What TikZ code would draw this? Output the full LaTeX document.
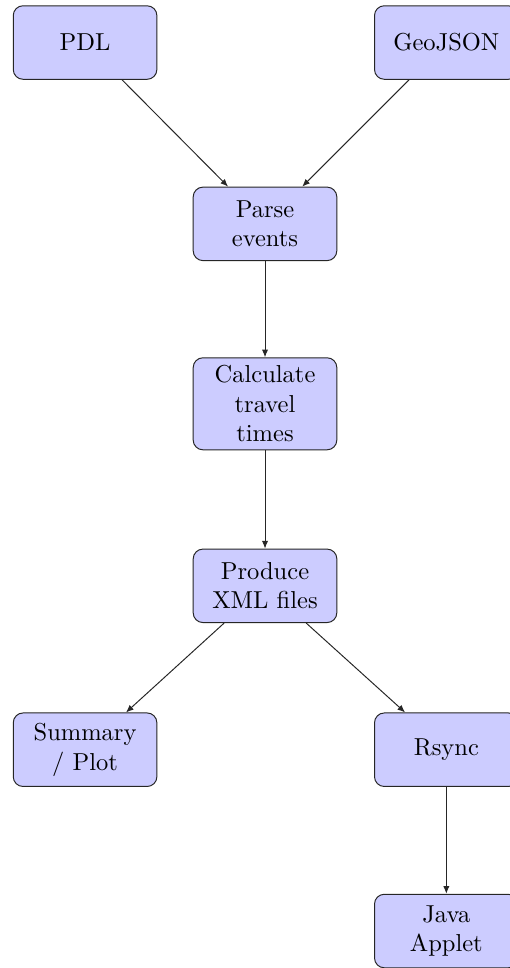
\documentclass[tikz,border=0pt]{standalone}
\usepackage{tikz}
\usetikzlibrary{arrows.meta,positioning}

\begin{document}
\begin{tikzpicture}[
  node distance=2.6cm, on grid,
  block/.style={rectangle, draw=black!85, fill=blue!20, text width=4.9em,
    align=center, rounded corners, minimum height=3em,
    inner xsep=4.8pt, inner ysep=3.2pt},
  line/.style={draw=black!85, -{Latex[length=1.1mm,width=0.9mm]}}
]
\useasboundingbox (-3.80,3.21) rectangle (3.50,-10.67);
% sources
\node[block] (parse) {Parse events};
\node[block, above left=2.6cm and 2.58cm of parse] (pdl) {PDL};
\node[block, above right=2.6cm and 2.6cm of parse] (geojson) {GeoJSON};
% processing
\node[block, below=2.58cm of parse] (calc) {Calculate travel times};
\node[block, below=2.61cm of calc] (produce) {Produce XML files};
% outputs
\node[block, below left=2.35cm and 2.58cm of produce] (summary) {Summary / Plot};
\node[block, right=5.18cm of summary] (rsync) {Rsync};
\node[block, below=2.6cm of rsync] (applet) {Java Applet};

\path[line] (pdl) -- (parse);
\path[line] (geojson) -- (parse);
\path[line] (parse) -- (calc);
\path[line] (calc) -- (produce);
\path[line] (produce) -- (summary);
\path[line] (produce) -- (rsync);
\path[line] (rsync) -- (applet);
\end{tikzpicture}
\end{document}
